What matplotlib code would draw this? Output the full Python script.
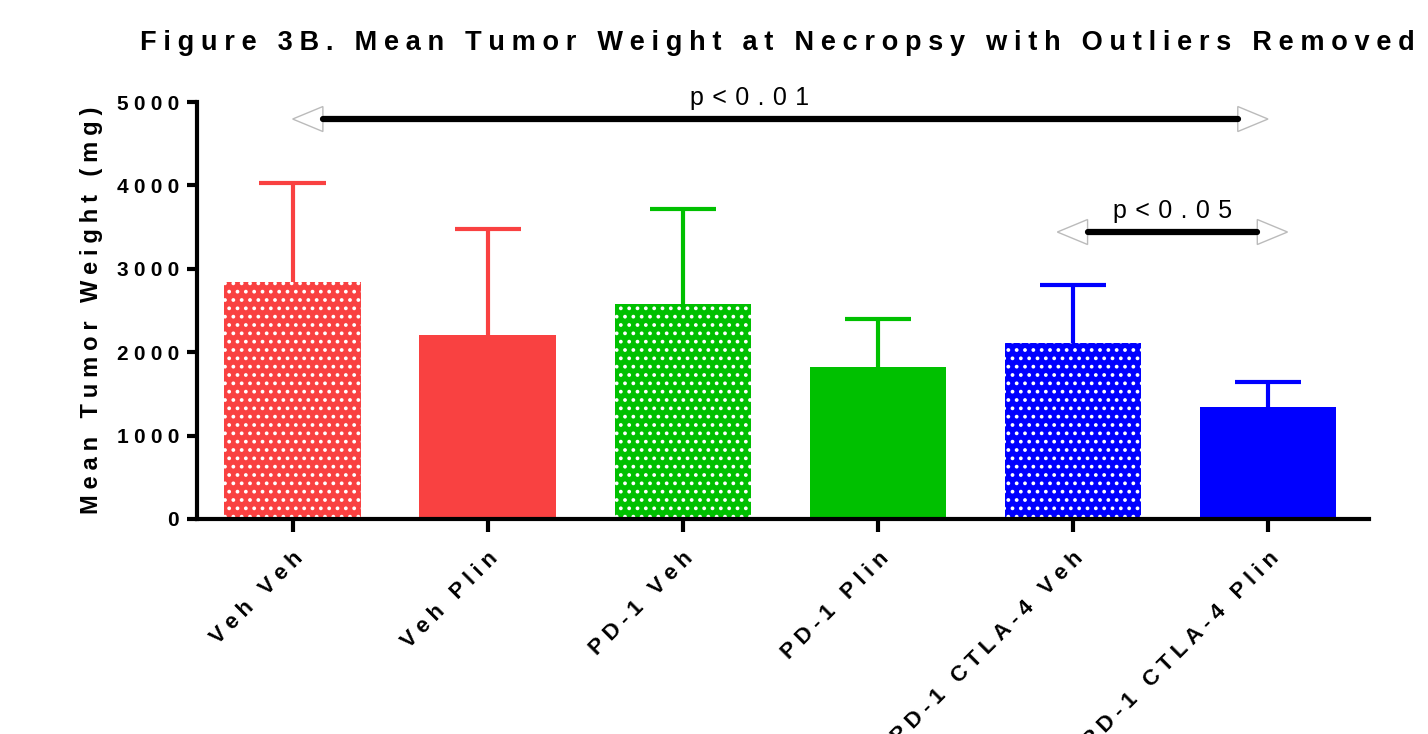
import matplotlib
matplotlib.use("Agg")
import matplotlib.pyplot as plt
from matplotlib.patches import Polygon

categories = ["Veh Veh", "Veh Plin", "PD-1 Veh", "PD-1 Plin", "PD-1 CTLA-4 Veh", "PD-1 CTLA-4 Plin"]
means = [2842, 2206, 2578, 1823, 2110, 1343]
upper_err = [1187, 1271, 1139, 575, 696, 300]
colors = ["#F94141", "#F94141", "#00C000", "#00C000", "#0000FF", "#0000FF"]
patterned = [True, False, True, False, True, False]
# comparisons: (start, end, y level, label, label x)
comparisons = [(0.0, 5.0, 4796, "p<0.01", 2.34), (3.92, 5.1, 3441, "p<0.05", 4.51)]

plt.rcParams['font.family'] = ['Liberation Sans', 'DejaVu Sans']
plt.rcParams['hatch.linewidth'] = 1.5

SP_WIDE = "\u2004"   # 1/3 em
SP_MED = "\u2005"    # 1/4 em
def spaced(s, sep=SP_MED):
    return sep.join(list(s))

fig = plt.figure(figsize=(14.28, 7.34), dpi=100)
ax = fig.add_axes([0.138, 0.293, 0.821, 0.568])

x = list(range(len(categories)))
cap_w = 0.17
for i in x:
    top = means[i] + upper_err[i]
    ax.vlines(i, means[i], top, color=colors[i], lw=3, zorder=1)
    ax.hlines(top, i - cap_w, i + cap_w, color=colors[i], lw=3, zorder=1)
    if patterned[i]:
        ax.bar(i, means[i], width=0.70, color=colors[i], edgecolor="white", hatch="..", linewidth=0, zorder=2)
    else:
        ax.bar(i, means[i], width=0.70, color=colors[i], linewidth=0, zorder=2)

ax.set_xlim(-0.49, 5.52)
ax.set_ylim(0, 5000)
ax.set_yticks([0, 1000, 2000, 3000, 4000, 5000])
ax.set_yticklabels([spaced(str(v)) for v in [0, 1000, 2000, 3000, 4000, 5000]],
                   fontsize=15, fontweight="bold")
ax.set_xticks(x)
ax.set_xticklabels([spaced(c) for c in categories], rotation=45, ha="right",
                   rotation_mode="anchor", fontsize=16, fontweight="bold")
ax.tick_params(axis="y", length=7, width=3, pad=6)
ax.tick_params(axis="x", length=9, width=3, pad=12)
for s in ["top", "right"]:
    ax.spines[s].set_visible(False)
for s in ["left", "bottom"]:
    ax.spines[s].set_linewidth(3)
ax.set_ylabel(spaced("Mean Tumor Weight (mg)"), fontsize=17, fontweight="bold", labelpad=10)

# significance brackets
tri_w = 0.155
tri_h = 150
for (a, b, y, lab, lx) in comparisons:
    ax.plot([a + tri_w, b - tri_w], [y, y], color="black", lw=4.5, solid_capstyle="round",
            zorder=3, clip_on=False)
    ax.add_patch(Polygon([[a, y], [a + tri_w, y + tri_h], [a + tri_w, y - tri_h]], closed=True,
                         facecolor="white", edgecolor="#BBBBBB", lw=1, zorder=2, clip_on=False))
    ax.add_patch(Polygon([[b, y], [b - tri_w, y + tri_h], [b - tri_w, y - tri_h]], closed=True,
                         facecolor="white", edgecolor="#BBBBBB", lw=1, zorder=2, clip_on=False))
    ax.text(lx, y + 110, spaced(lab, SP_WIDE), ha="center", va="bottom", fontsize=18, clip_on=False)

fig.text(0.098, 0.942, spaced("Figure 3B. Mean Tumor Weight at Necropsy with Outliers Removed"),
         fontsize=19.5, fontweight="bold", ha="left", va="center")

fig.savefig("out.png", dpi=100)
